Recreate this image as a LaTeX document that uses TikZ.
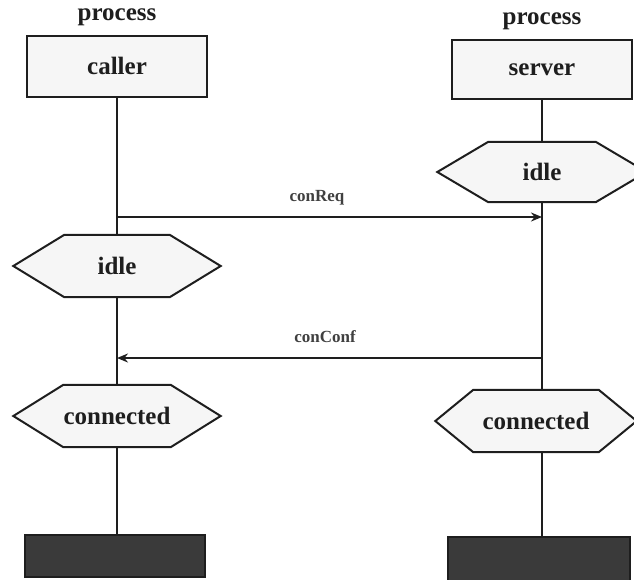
\documentclass[tikz,border=0pt]{standalone}
\usepackage{fontspec}
\setmainfont{Liberation Serif}
\usetikzlibrary{backgrounds,arrows.meta}
\definecolor{ink}{HTML}{1E1E1E}
\definecolor{boxfill}{HTML}{F6F6F6}
\definecolor{endfill}{HTML}{3A3A3A}

\begin{document}
\begin{tikzpicture}[x=1pt,y=-1pt,
  every node/.style={font=\fontsize{25}{27}\selectfont\bfseries, text=ink},
  proclabel/.style={inner sep=0pt},
  procbox/.style={draw=ink, fill=boxfill, line width=2pt, inner sep=0pt,
                  minimum width=180pt, minimum height=61pt},
  hexcore/.style={inner sep=0pt, minimum height=62pt},
  hexline/.style={draw=ink, fill=boxfill, line width=2pt, line join=miter},
  endbar/.style={draw=ink, fill=endfill, line width=2pt, inner sep=0pt,
                 minimum width=180pt},
  life/.style={draw=ink, line width=2pt},
  msg/.style={life, -{Stealth[length=11pt,width=9pt]}},
  msglabel/.style={font=\fontsize{17}{18}\selectfont\bfseries, inner sep=0pt,
                   text=ink!85}
]
\useasboundingbox (0,0) rectangle (634,579);

% process headers
\node[proclabel] (lproc) at (117,17) {process};
\node[proclabel] (rproc) at (542,21) {process};
\node[procbox] (caller) at (117,66) {caller};
\node[procbox, minimum height=59pt] (server) at (542,69.5) {server};

% states (hexagon outlines are drawn behind the text below)
\node[hexcore, minimum width=105pt] (lidle) at (117,266) {idle};
\node[hexcore, minimum width=104pt] (lconn) at (117,416) {connected};
\node[hexcore, minimum width=107pt, minimum height=60pt] (ridle) at (542,172) {idle};
\node[hexcore, minimum width=125pt] (rconn) at (536,421) {connected};

\begin{scope}[on background layer]
  \foreach \n/\t in {lidle/51, lconn/50, ridle/51, rconn/38}
    \draw[hexline] ([xshift=-\t pt]\n.west) -- (\n.north west) -- (\n.north east)
      -- ([xshift=\t pt]\n.east) -- (\n.south east) -- (\n.south west) -- cycle;
\end{scope}

% terminating bars
\node[endbar, minimum height=42pt] (lend) at (114.5,556) {};
\node[endbar, minimum width=182pt, minimum height=46pt] (rend) at (539,560) {};

% lifelines
\draw[life] (caller.south) -- (lidle.north);
\draw[life] (lidle.south) -- (lconn.north);
\draw[life] (lconn.south) -- (lconn.south |- lend.north);
\draw[life] (server.south) -- (ridle.north);
\draw[life] (ridle.south) -- (ridle.south |- rconn.north);
\draw[life] (ridle.south |- rconn.south) -- (ridle.south |- rend.north);

% messages
\coordinate (reqL) at (117,217);
\coordinate (reqR) at (542,217);
\coordinate (cnfR) at (542,358);
\coordinate (cnfL) at (117,358);
\draw[msg] (reqL) -- (reqR);
\draw[msg] (cnfR) -- (cnfL);
\node[msglabel] (reqlab) at (317,198) {conReq};
\node[msglabel] (cnflab) at (325,337) {conConf};
\end{tikzpicture}
\end{document}
